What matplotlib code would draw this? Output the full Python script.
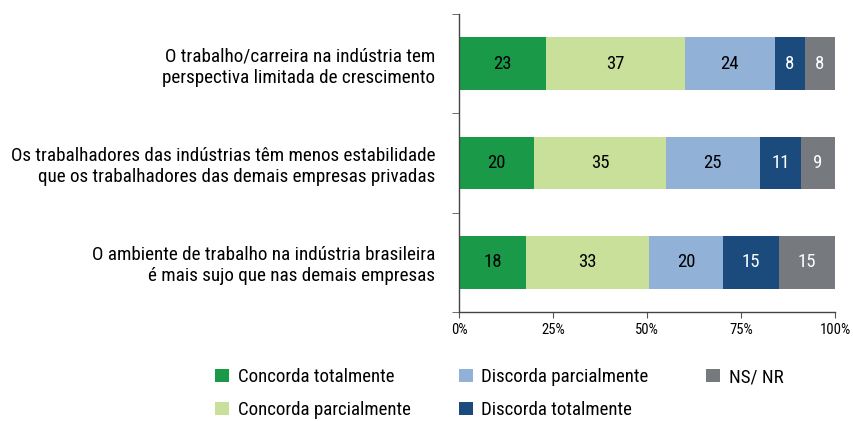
import matplotlib.pyplot as plt
import numpy as np
from matplotlib.patches import Patch

plt.rcParams["font.family"] = ["Roboto Condensed", "DejaVu Sans"]
plt.rcParams["font.stretch"] = "condensed"

categories = [
    "O trabalho/carreira na indústria tem\nperspectiva limitada de crescimento",
    "Os trabalhadores das indústrias têm menos estabilidade\nque os trabalhadores das demais empresas privadas",
    "O ambiente de trabalho na indústria brasileira\né mais sujo que nas demais empresas",
]
series_names = [
    "Concorda totalmente",
    "Concorda parcialmente",
    "Discorda parcialmente",
    "Discorda totalmente",
    "NS/ NR",
]
concorda_total = [23, 20, 18]
concorda_parcial = [37, 35, 33]
discorda_parcial = [24, 25, 20]
discorda_total = [8, 11, 15]
ns_nr = [8, 9, 15]
x_ticks = [0, 25, 50, 75, 100]

colors = ["#1a9a48", "#c8e09a", "#92b1d6", "#1b4a7d", "#76797d"]
text_colors = ["black", "black", "black", "white", "white"]

values = np.array([concorda_total, concorda_parcial, discorda_parcial, discorda_total, ns_nr], dtype=float)
shares = values / values.sum(axis=0) * 100

fig = plt.figure(figsize=(8.54, 4.21), dpi=100)
ax = fig.add_axes([0.5375, 0.259, 0.4403, 0.7078])

y = np.arange(len(categories))
left = np.zeros(len(categories))
for i in range(len(series_names)):
    ax.barh(y, shares[i], left=left, height=0.53, color=colors[i], edgecolor="none")
    for j in range(len(categories)):
        ax.text(left[j] + shares[i][j] / 2, y[j], f"{int(values[i][j])}",
                ha="center", va="center", fontsize=13.5, color=text_colors[i])
    left += shares[i]

ax.set_xlim(0, 100)
ax.set_ylim(2.5, -0.5)
ax.set_xticks(x_ticks)
ax.set_xticklabels([f"{t}%" for t in x_ticks], fontsize=10.5)
ax.set_yticks(y)
ax.set_yticklabels(categories, fontsize=13.8, linespacing=1.22)
ax.set_yticks([-0.5, 0.5, 1.5, 2.5], minor=True)
ax.tick_params(axis="y", which="major", length=0, pad=17)
ax.tick_params(axis="y", which="minor", length=5, color="#555555", direction="out")
ax.tick_params(axis="x", length=4, color="#555555", pad=4)
for side in ["top", "right"]:
    ax.spines[side].set_visible(False)
for side in ["left", "bottom"]:
    ax.spines[side].set_color("#444444")
    ax.spines[side].set_linewidth(1.0)

handles = [Patch(facecolor=c, edgecolor="none") for c in colors]
legend_pos = [(0.252, 0.1045), (0.252, 0.026), (0.537, 0.1045), (0.537, 0.026), (0.827, 0.1045)]
for h, name, (lx, ly) in zip(handles, series_names, legend_pos):
    fig.legend([h], [name], loc="center left", bbox_to_anchor=(lx, ly), frameon=False,
               fontsize=13.6, handlelength=0.74, handleheight=0.74, handletextpad=0.45,
               borderpad=0, borderaxespad=0)

fig.savefig("out.png", dpi=100)
